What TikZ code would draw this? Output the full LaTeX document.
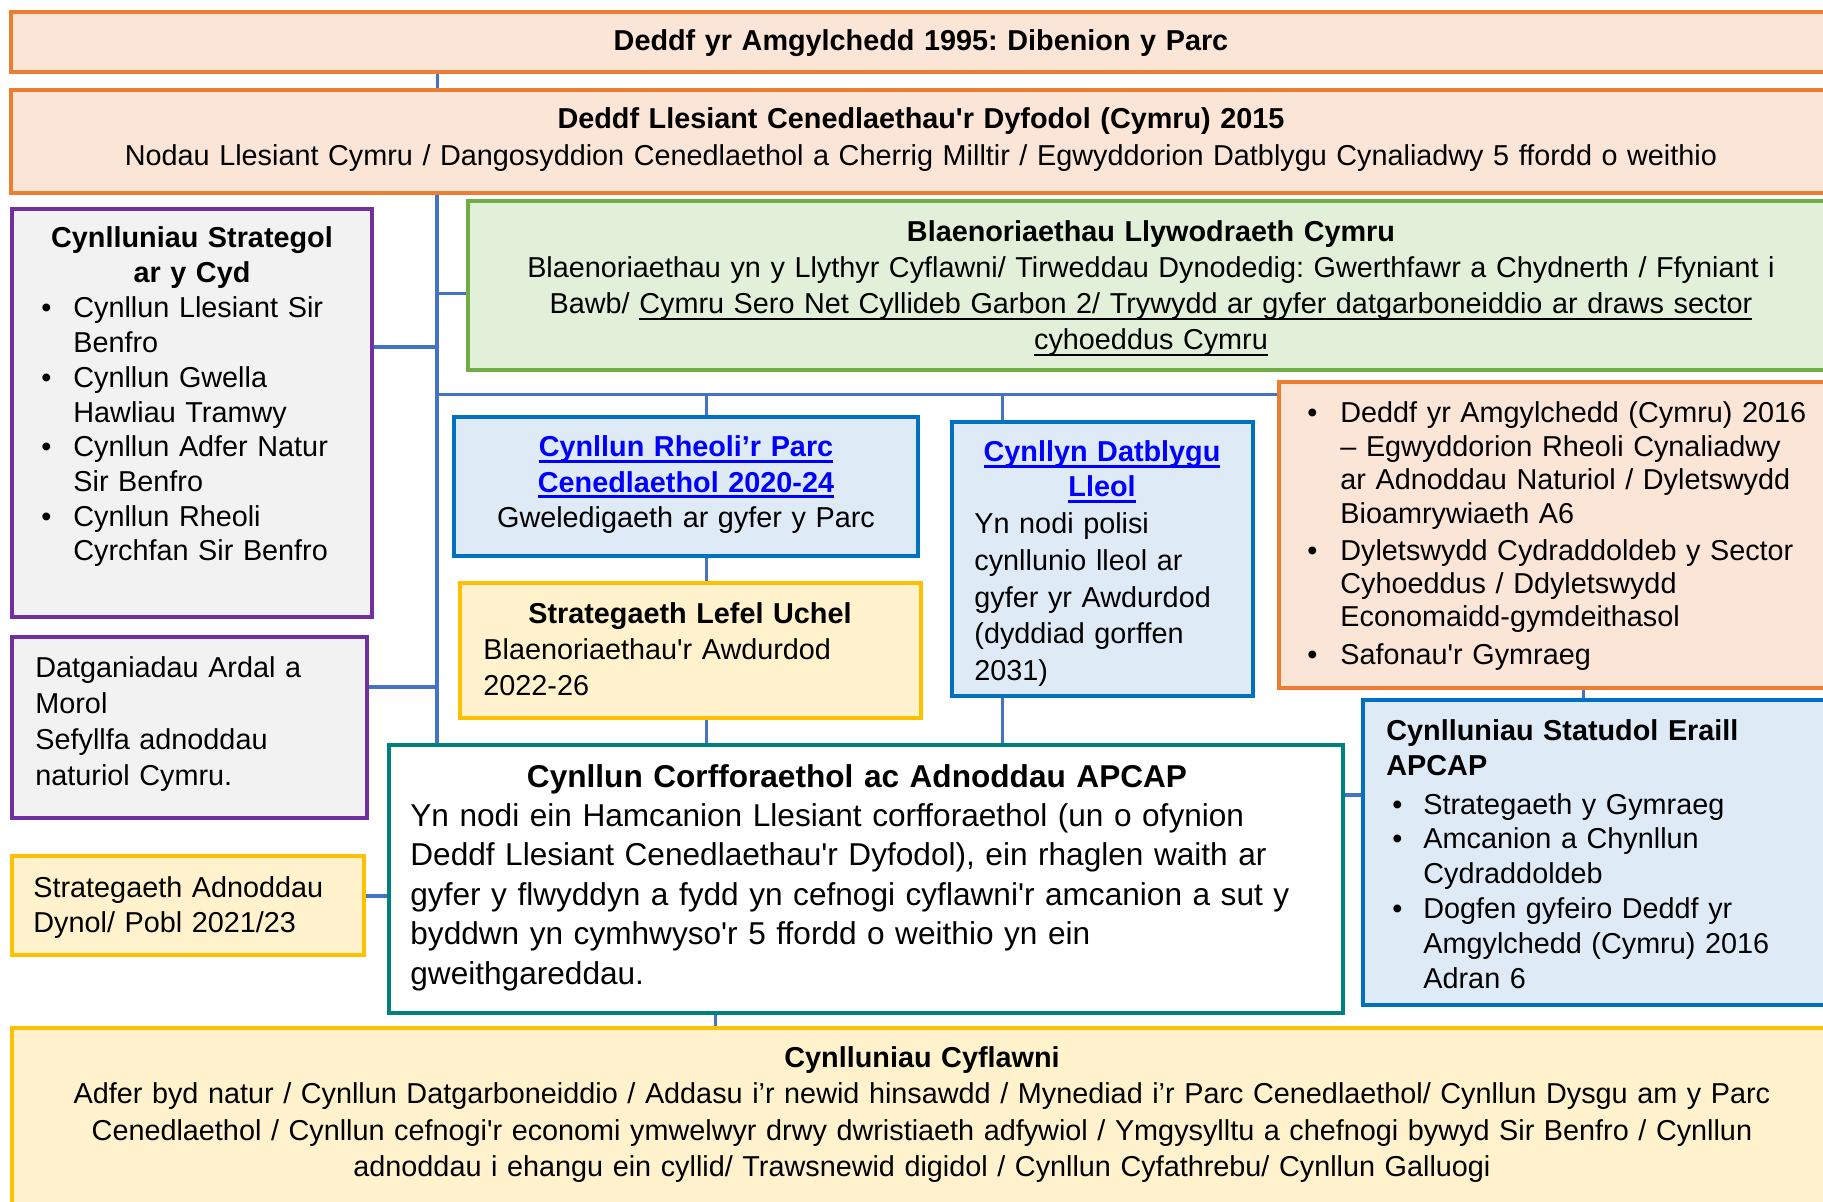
\documentclass[tikz,border=0pt]{standalone}
\usepackage{fontspec}
\newfontfamily\arial{Liberation Sans}
\usetikzlibrary{fit}
\definecolor{orln}{HTML}{ED7D31}
\definecolor{orfl}{HTML}{FBE5D6}
\definecolor{grln}{HTML}{70AD47}
\definecolor{grfl}{HTML}{E2F0D9}
\definecolor{puln}{HTML}{7030A0}
\definecolor{pufl}{HTML}{F2F2F2}
\definecolor{blln}{HTML}{0070C0}
\definecolor{blfl}{HTML}{DEEBF7}
\definecolor{yeln}{HTML}{FFC000}
\definecolor{yefl}{HTML}{FFF2CC}
\definecolor{teln}{HTML}{00807F}
\definecolor{wirecol}{HTML}{4472C4}
\definecolor{hlink}{HTML}{0000FF}
\frenchspacing
\newsavebox\ulbox
\newcommand\ulin[2][1.1pt]{\leavevmode\sbox\ulbox{#2}\rlap{\rule[-3pt]{\wd\ulbox}{#1}}\usebox\ulbox}
\newcommand\lnk[1]{{\color{hlink}\bfseries\ulin[1.6pt]{#1}}}
\newcommand\bitem[1][16pt]{\makebox[#1][l]{•}}
\newcommand\bcont[1][16pt]{\hspace*{#1}}
\tikzset{
  box/.style={draw, line width=1.6pt, inner sep=0pt},
  orbox/.style={box, draw=orln, fill=orfl},
  grbox/.style={box, draw=grln, fill=grfl},
  pubox/.style={box, draw=puln, fill=pufl},
  blbox/.style={box, draw=blln, fill=blfl},
  yebox/.style={box, draw=yeln, fill=yefl},
  tebox/.style={box, draw=teln, fill=white},
  txt/.style={inner sep=0pt, font=\arial\fontsize{14.4}{#1}\selectfont},
  ctr/.style={txt=#1, text width=900pt, align=center, anchor=base},
  lft/.style={txt=#1, text width=600pt, align=left, anchor=base west},
  wire/.style={draw=wirecol, line width=1.5pt},
  trunk/.style={wire, line width=2pt}
}
\begin{document}
\begin{tikzpicture}[x=0.5pt, y=-0.5pt]
\useasboundingbox (0,0) rectangle (1823,1202);
\node[orbox, fit={(11,12) (1832,72)}] (t1) {};
\node[orbox, fit={(11,90) (1832,193)}] (t2) {};
\node[pubox, fit={(12,209) (372,617)}] (strat) {};
\node[grbox, fit={(468,201) (1834,370)}] (green) {};
\node[blbox, fit={(454,417) (918,556)}] (rheoli) {};
\node[yebox, fit={(460,583) (921,718)}] (lefel) {};
\node[blbox, fit={(952,422) (1253,696)}] (ldp) {};
\node[orbox, fit={(1279,382) (1834,688)}] (orng) {};
\node[blbox, fit={(1363,700) (1834,1005)}] (stat) {};
\node[pubox, fit={(12,637) (367,818)}] (datg) {};
\node[tebox, fit={(389,745) (1343,1013)}] (corp) {};
\node[yebox, fit={(12,856) (364,955)}] (dynol) {};
\node[yebox, fit={(12,1028) (1834,1215)}] (cyfl) {};

\node[ctr=17.5pt] (t1T) at (921,51) {\bfseries Deddf yr Amgylchedd 1995: Dibenion y Parc};
\node[ctr=18.5pt] (t2T) at (921,129) {\textbf{Deddf Llesiant Cenedlaethau'r Dyfodol (Cymru) 2015}\\
  Nodau Llesiant Cymru / Dangosyddion Cenedlaethol a Cherrig Milltir / Egwyddorion Datblygu Cynaliadwy 5 ffordd o weithio};
\node[ctr=18pt] (greenT) at (1151,242) {\textbf{Blaenoriaethau Llywodraeth Cymru}\\
  Blaenoriaethau yn y Llythyr Cyflawni/ Tirweddau Dynodedig: Gwerthfawr a Chydnerth / Ffyniant i\\
  Bawb/ \ulin{Cymru Sero Net Cyllideb Garbon 2/ Trywydd ar gyfer datgarboneiddio ar draws sector}\\
  \ulin{cyhoeddus Cymru}};
\node[ctr=17.35pt] (stratT) at (192,248) {\bfseries Cynlluniau Strategol\\ ar y Cyd};
\node[lft=17.35pt] (stratL) at (41,318) {\bitem Cynllun Llesiant Sir\\ \bcont Benfro\\
  \bitem Cynllun Gwella\\ \bcont Hawliau Tramwy\\
  \bitem Cynllun Adfer Natur\\ \bcont Sir Benfro\\
  \bitem Cynllun Rheoli\\ \bcont Cyrchfan Sir Benfro};
\node[lft=18.15pt] (datgT) at (35,677) {Datganiadau Ardal a\\ Morol\\ Sefyllfa adnoddau\\ naturiol Cymru.};
\node[ctr=17.75pt] (rheoliT) at (686,457) {\lnk{Cynllun Rheoli’r Parc}\\ \lnk{Cenedlaethol 2020-24}\\ Gweledigaeth ar gyfer y Parc};
\node[ctr=18pt] (lefelT) at (690,623) {\bfseries Strategaeth Lefel Uchel};
\node[lft=18pt] (lefelL) at (483,659) {Blaenoriaethau'r Awdurdod\\ 2022-26};
\node[ctr=17.5pt] (ldpT) at (1102,462) {\lnk{Cynllyn Datblygu}\\ \lnk{Lleol}};
\node[lft=18.3pt] (ldpL) at (974,534) {Yn nodi polisi\\ cynllunio lleol ar\\ gyfer yr Awdurdod\\ (dyddiad gorffen\\ 2031)};
\node[lft=16.7pt] (orngL) at (1307,423) {\bitem[16.5pt]Deddf yr Amgylchedd (Cymru) 2016\\
  \bcont[16.5pt]– Egwyddorion Rheoli Cynaliadwy\\ \bcont[16.5pt]ar Adnoddau Naturiol / Dyletswydd\\
  \bcont[16.5pt]Bioamrywiaeth A6\\[1.8pt]
  \bitem[16.5pt]Dyletswydd Cydraddoldeb y Sector\\ \bcont[16.5pt]Cyhoeddus / Ddyletswydd\\
  \bcont[16.5pt]Economaidd-gymdeithasol\\[1.8pt]
  \bitem[16.5pt]Safonau'r Gymraeg};
\node[lft=17.5pt] (statT) at (1386,740) {\bfseries Cynlluniau Statudol Eraill\\ APCAP};
\node[lft=17.4pt] (statL) at (1392,814) {\bitem[15.5pt]Strategaeth y Gymraeg\\
  \bitem[15.5pt]Amcanion a Chynllun\\ \bcont[15.5pt]Cydraddoldeb\\
  \bitem[15.5pt]Dogfen gyfeiro Deddf yr\\ \bcont[15.5pt]Amgylchedd (Cymru) 2016\\ \bcont[15.5pt]Adran 6};
\node[ctr=19.75pt, font=\arial\fontsize{15.8}{19.75}\selectfont] (corpT) at (857,787) {\bfseries Cynllun Corfforaethol ac Adnoddau APCAP};
\node[lft=19.75pt, font=\arial\fontsize{15.8}{19.75}\selectfont] (corpL) at (410,826) {Yn nodi ein Hamcanion Llesiant corfforaethol (un o ofynion\\
  Deddf Llesiant Cenedlaethau'r Dyfodol), ein rhaglen waith ar\\
  gyfer y flwyddyn a fydd yn cefnogi cyflawni'r amcanion a sut y\\
  byddwn yn cymhwyso'r 5 ffordd o weithio yn ein\\
  gweithgareddau.};
\node[lft=17.5pt] (dynolT) at (33,897) {Strategaeth Adnoddau\\ Dynol/ Pobl 2021/23};
\node[ctr=18.3pt] (cyflT) at (922,1067) {\textbf{Cynlluniau Cyflawni}\\
  Adfer byd natur / Cynllun Datgarboneiddio / Addasu i’r newid hinsawdd / Mynediad i’r Parc Cenedlaethol/ Cynllun Dysgu am y Parc\\
  Cenedlaethol / Cynllun cefnogi'r economi ymwelwyr drwy dwristiaeth adfywiol / Ymgysylltu a chefnogi bywyd Sir Benfro / Cynllun\\
  adnoddau i ehangu ein cyllid/ Trawsnewid digidol / Cynllun Cyfathrebu/ Cynllun Galluogi};

\coordinate (trk) at (437,0);
\coordinate (vr) at (706,0);
\coordinate (vl) at (1002,0);
\coordinate (vo) at (1583,0);
\coordinate (vc) at (715,0);
\coordinate (hg) at (0,294);
\coordinate (hs) at (0,347);
\coordinate (bus) at (0,395);
\coordinate (hd) at (0,687);
\coordinate (hc) at (0,795);
\coordinate (hp) at (0,896);
\draw[wire] (t1.south -| trk) -- (t2.north -| trk);
\draw[trunk] (t2.south -| trk) -- (corp.north -| trk);
\draw[wire] (trk |- hg) -- (green.west |- hg);
\draw[trunk] (strat.east |- hs) -- (trk |- hs);
\draw[wire] (trk |- bus) -- (orng.west |- bus);
\draw[trunk] (datg.east |- hd) -- (trk |- hd);
\draw[wire] (vr |- bus) -- (rheoli.north -| vr);
\draw[wire] (rheoli.south -| vr) -- (lefel.north -| vr);
\draw[wire] (lefel.south -| vr) -- (corp.north -| vr);
\draw[wire] (vl |- bus) -- (ldp.north -| vl);
\draw[wire] (ldp.south -| vl) -- (corp.north -| vl);
\draw[wire] (orng.south -| vo) -- (stat.north -| vo);
\draw[trunk] (corp.east |- hc) -- (stat.west |- hc);
\draw[trunk] (dynol.east |- hp) -- (corp.west |- hp);
\draw[wire] (corp.south -| vc) -- (cyfl.north -| vc);
\end{tikzpicture}
\end{document}
